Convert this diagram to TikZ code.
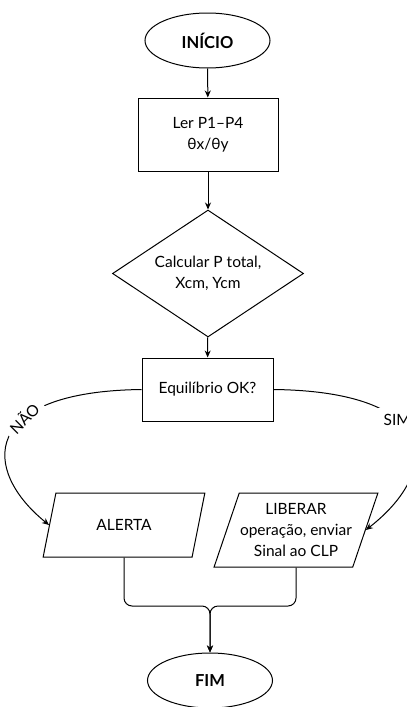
\documentclass[tikz,border=0pt]{standalone}
\usepackage{fontspec}
\setmainfont{Lato}
\usetikzlibrary{shapes.geometric,arrows.meta}
\begin{document}
\begin{tikzpicture}[x=1pt,y=-1pt,line width=1pt,
		seta/.style={-{Stealth[length=7pt,width=6pt]}},
		texto/.style={font=\fontsize{15.5}{21}\selectfont},
		terminal/.style={draw, ellipse, minimum width=125pt, minimum height=55pt, font=\fontsize{16.5}{20}\selectfont\bfseries},
		processo/.style={draw, rectangle, align=center, texto},
		decisao/.style={draw, diamond, aspect=1.5, minimum width=191pt, minimum height=127pt, inner sep=0pt, align=center, texto},
		entsai/.style={draw, trapezium, trapezium left angle=65, trapezium right angle=115, trapezium stretches=true, inner sep=0pt, align=center, texto},
		rotulo/.style={fill=white, inner sep=6pt, texto}]
		\useasboundingbox (0,0) rectangle (407,707);

		\node[terminal] (inicio) at (207.5,40.5) {INÍCIO};
		\node[processo, minimum width=140pt, minimum height=73pt] (ler) at (208,134.5) {Ler P1–P4\\θx/θy};
		\node[decisao] (calc) at (208,273.5) {Calcular P total,\\Xcm, Ycm};
		\node[processo, minimum width=131pt, minimum height=63pt] (equil) at (207.5,389.5) {Equilíbrio OK?};
		\node[entsai, minimum width=162pt, minimum height=64pt] (alerta) at (124,525) {ALERTA};
		\node[entsai, minimum width=164pt, minimum height=74pt] (liberar) at (296,530) {LIBERAR\\operação, enviar\\Sinal ao CLP};
		\node[terminal] (fim) at (210,680.5) {FIM};
		\coordinate (juncao) at (210,606);

		\draw[seta] (inicio) -- (ler);
		\draw[seta] (ler) -- (calc);
		\draw[seta] (calc) -- (equil);
		\draw[seta] (equil.west) .. controls +(-162,2) and +(-68,-55) .. (alerta.west) node[rotulo, rotate=45, pos=0.37] {NÃO};
		\draw[seta] (equil.east) .. controls +(167,2) and +(77,-60) .. (liberar.east) node[rotulo, pos=0.38] {SIM};
		\draw[seta, rounded corners=8pt] (alerta.south) |- (juncao) -- (fim.north);
		\draw[seta, rounded corners=8pt] (liberar.south) |- (juncao) -- (fim.north);
		\end{tikzpicture}
\end{document}
